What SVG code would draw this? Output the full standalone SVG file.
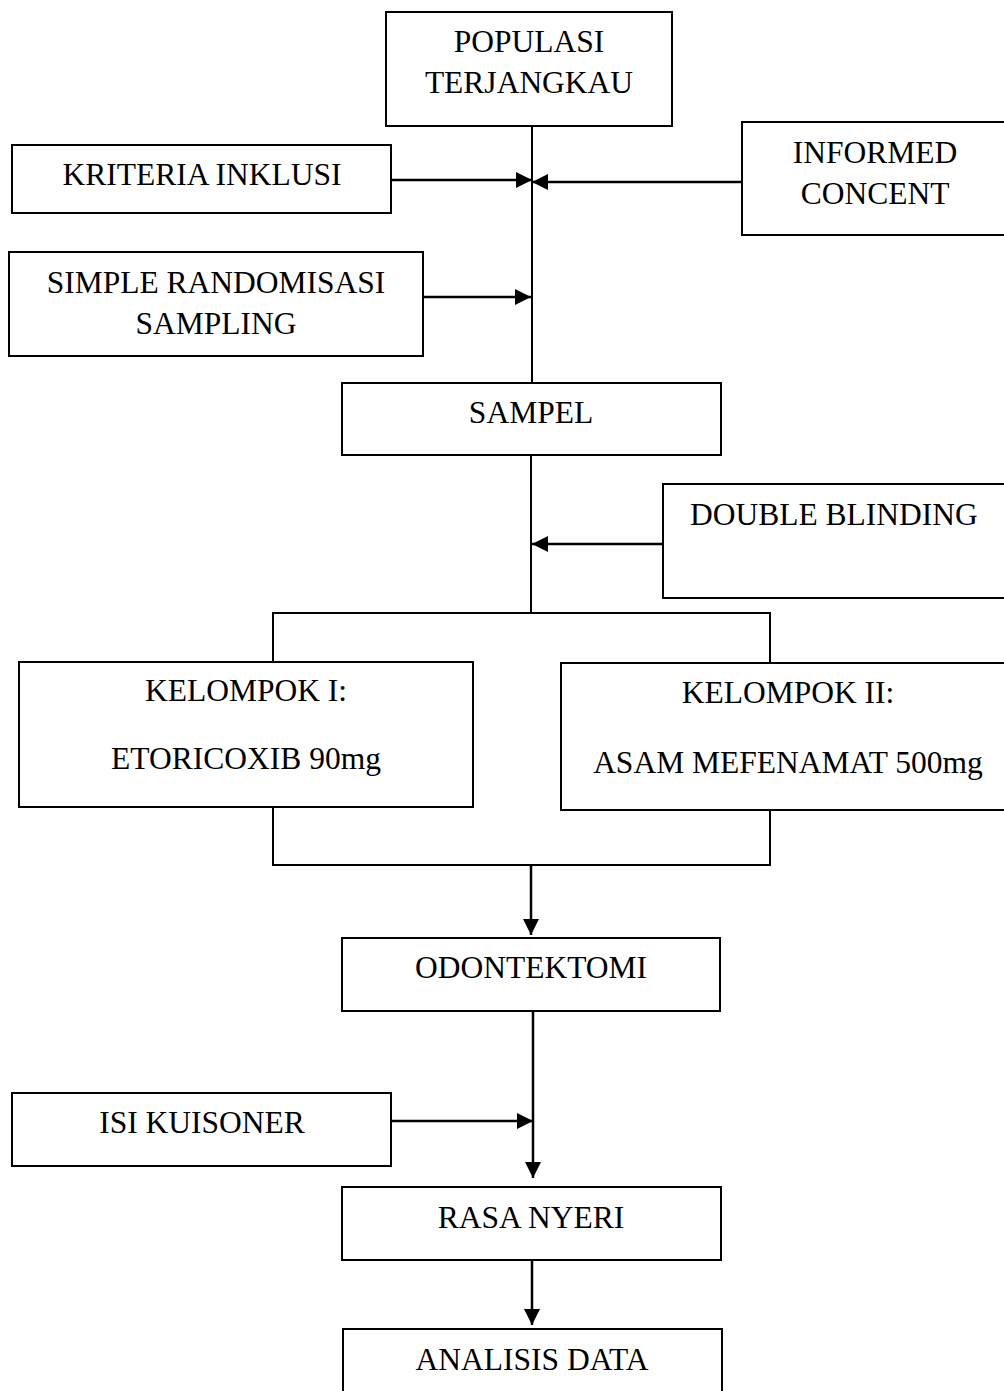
<svg xmlns="http://www.w3.org/2000/svg" width="1004" height="1391" viewBox="0 0 1004 1391">
<style>
.box{fill:#fff;stroke:#000;stroke-width:2}
.t{font-family:"Liberation Serif","Times New Roman",serif;font-size:31.5px;fill:#000;text-anchor:middle}
.l{font-family:"Liberation Serif","Times New Roman",serif;font-size:31.5px;fill:#000}
.ln{fill:none;stroke:#000;stroke-width:2}
.ar{fill:none;stroke:#000;stroke-width:2.5;marker-end:url(#ah)}
</style>
<defs>
<marker id="ah" markerUnits="userSpaceOnUse" markerWidth="18" markerHeight="16" refX="16" refY="8" orient="auto">
<path d="M0,0 L16,8 L0,16 Z" fill="#000"/>
</marker>
</defs>
<rect width="1004" height="1391" fill="#fff"/>
<g id="connectors">
<line class="ln" x1="532" y1="126" x2="532" y2="383"/>
<line class="ar" x1="391" y1="180" x2="532" y2="180"/>
<line class="ar" x1="742" y1="182" x2="532" y2="182"/>
<line class="ar" x1="423" y1="297" x2="531" y2="297"/>
<line class="ln" x1="531" y1="455" x2="531" y2="613"/>
<line class="ar" x1="663" y1="544" x2="532" y2="544"/>
<polyline class="ln" points="273,662 273,613 770,613 770,663"/>
<polyline class="ln" points="273,807 273,865 770,865 770,810"/>
<line class="ar" x1="531" y1="865" x2="531" y2="935"/>
<line class="ar" x1="533" y1="1011" x2="533" y2="1178"/>
<line class="ar" x1="391" y1="1121" x2="533" y2="1121"/>
<line class="ar" x1="532" y1="1260" x2="532" y2="1325"/>
</g>
<g id="populasi"><rect class="box" x="386" y="12" width="286" height="114"/><text class="t" x="529" y="52">POPULASI</text><text class="t" x="529" y="93">TERJANGKAU</text></g>
<g id="kriteria"><rect class="box" x="12" y="145" width="379" height="68"/><text class="t" x="202" y="185">KRITERIA INKLUSI</text></g>
<g id="informed"><rect class="box" x="742" y="122" width="270" height="113"/><text class="t" x="875" y="163">INFORMED</text><text class="t" x="875" y="204">CONCENT</text></g>
<g id="simple"><rect class="box" x="9" y="252" width="414" height="104"/><text class="t" x="216" y="293">SIMPLE RANDOMISASI</text><text class="t" x="216" y="334">SAMPLING</text></g>
<g id="sampel"><rect class="box" x="342" y="383" width="379" height="72"/><text class="t" x="531" y="423">SAMPEL</text></g>
<g id="double"><rect class="box" x="663" y="484" width="350" height="114"/><text class="l" x="690" y="525">DOUBLE BLINDING</text></g>
<g id="kelompok1"><rect class="box" x="19" y="662" width="454" height="145"/><text class="t" x="246" y="701">KELOMPOK I:</text><text class="t" x="246" y="769">ETORICOXIB 90mg</text></g>
<g id="kelompok2"><rect class="box" x="561" y="663" width="460" height="147"/><text class="t" x="788" y="703">KELOMPOK II:</text><text class="t" x="788" y="773">ASAM MEFENAMAT 500mg</text></g>
<g id="odontektomi"><rect class="box" x="342" y="938" width="378" height="73"/><text class="t" x="531" y="978">ODONTEKTOMI</text></g>
<g id="isi"><rect class="box" x="12" y="1093" width="379" height="73"/><text class="t" x="202" y="1133">ISI KUISONER</text></g>
<g id="rasa"><rect class="box" x="342" y="1187" width="379" height="73"/><text class="t" x="531" y="1228">RASA NYERI</text></g>
<g id="analisis"><rect class="box" x="343" y="1329" width="379" height="80"/><text class="t" x="532" y="1370">ANALISIS DATA</text></g>
</svg>
